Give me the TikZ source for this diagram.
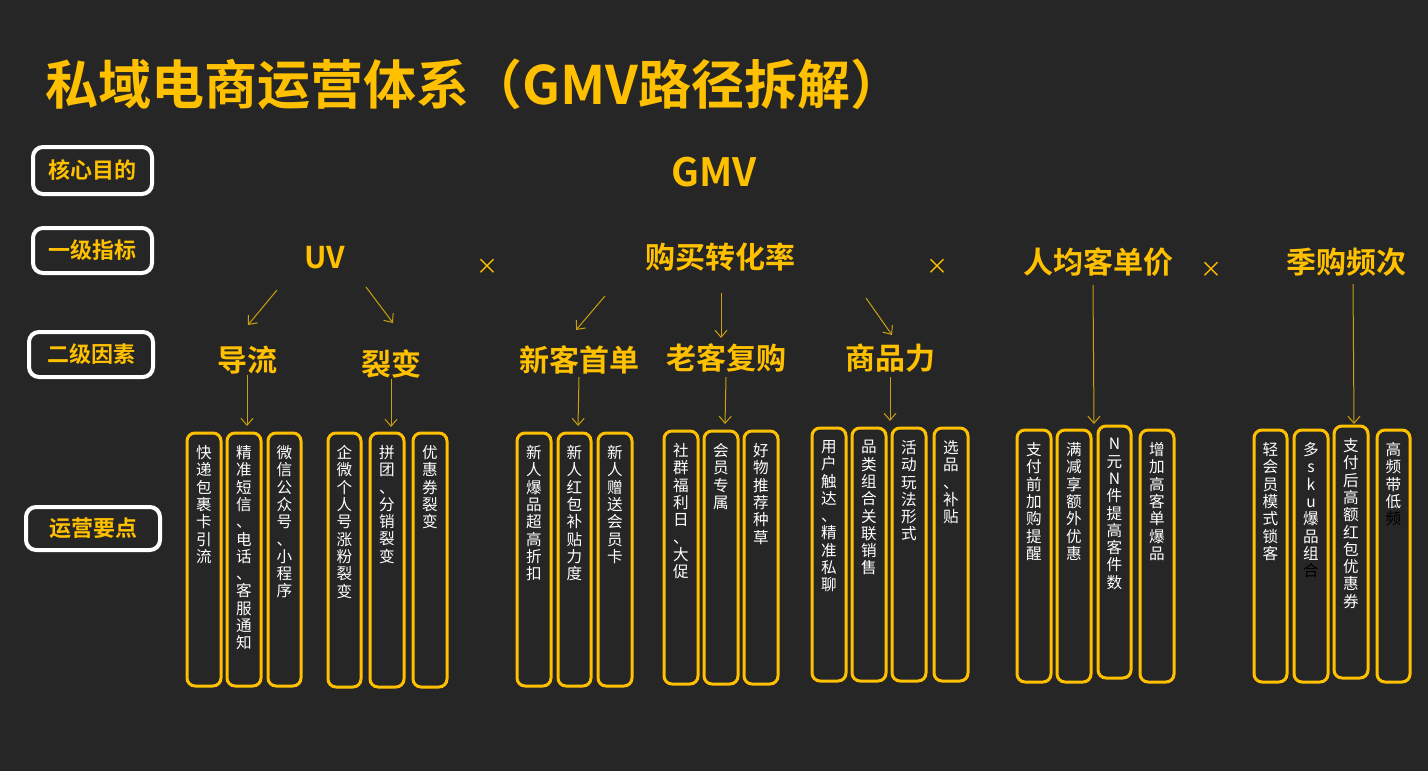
\documentclass[tikz,border=0pt]{standalone}
\usepackage{fontspec}
\usetikzlibrary{arrows.meta}
\setmainfont{Noto Sans CJK SC}
\newfontfamily\cjkb{Noto Sans CJK SC Bold}
\definecolor{bg}{HTML}{262626}
\definecolor{og}{HTML}{FFC000}
\definecolor{ln}{HTML}{C9A010}
\begin{document}
\begin{tikzpicture}[x=0.5pt,y=-0.5pt,
 lab/.style={draw=white,line width=2pt,rounded corners=5pt,text=og,font=\cjkb\fontsize{11}{12}\selectfont,inner sep=0pt},
 lvl/.style={text=og,font=\cjkb\fontsize{15}{18}\selectfont,inner sep=1pt},
 tms/.style={text=og,font=\fontsize{11}{12}\selectfont},
 arr/.style={draw=ln,line width=0.5pt,-{Straight Barb[length=3.5pt,width=6pt]}},
 bx/.style={draw=og,line width=1.5pt,rounded corners=4pt},
 bt/.style={text=white,font=\fontsize{7.8}{8.65}\selectfont,align=center,anchor=north,inner sep=0pt}]
\fill[bg] (0,0) rectangle (1428,771);
\useasboundingbox (0,0) rectangle (1428,771);
\node[anchor=west,text=og,font=\cjkb\fontsize{26.5}{30}\selectfont] (title) at (38,84) {私域电商运营体系（GMV路径拆解）};
\node[lab,minimum width=59.5pt,minimum height=23.5pt] (l1) at (92.5,170.5) {核心目的};
\node[lab,minimum width=59.5pt,minimum height=22.5pt] (l2) at (92.5,250.5) {一级指标};
\node[lab,minimum width=62pt,minimum height=22.5pt] (l3) at (91,354.5) {二级因素};
\node[lab,minimum width=67pt,minimum height=21.5pt] (l4) at (93,528.5) {运营要点};
\node[text=og,font=\cjkb\fontsize{19.5}{22}\selectfont] (gmv) at (714,172) {GMV};
\node[lvl] (uv) at (325,258) {UV};
\node[lvl] (cvr) at (720,257) {购买转化率};
\node[lvl] (aov) at (1098,262) {人均客单价};
\node[lvl] (freq) at (1346,262) {季购频次};
\node[tms] (x1) at (487,267) {×};
\node[tms] (x2) at (937,267) {×};
\node[tms] (x3) at (1211,270) {×};
\node[lvl] (dl) at (247,360) {导流};
\node[lvl] (lb) at (391,364) {裂变};
\node[lvl] (xk) at (579,360) {新客首单};
\node[lvl] (lk) at (726,358) {老客复购};
\node[lvl] (sp) at (890,358) {商品力};
% arrows
\coordinate (a1) at (277,290); \coordinate (b1) at (248,325);
\coordinate (a2) at (366,287); \coordinate (b2) at (393,323);
\coordinate (a3) at (247,375); \coordinate (b3) at (247,426);
\coordinate (a4) at (391,379); \coordinate (b4) at (391,427);
\coordinate (a5) at (605,296); \coordinate (b5) at (576,330);
\coordinate (a6) at (721,293); \coordinate (b6) at (721,338);
\coordinate (a7) at (866,298); \coordinate (b7) at (892,335);
\coordinate (a8) at (579,377); \coordinate (b8) at (578,426);
\coordinate (a9) at (726,377); \coordinate (b9) at (725,424);
\coordinate (a10) at (890,377); \coordinate (b10) at (890,421);
\coordinate (a11) at (1093,285); \coordinate (b11) at (1094,424);
\coordinate (a12) at (1353,284); \coordinate (b12) at (1354,424);
\foreach \i in {1,...,12} \draw[arr] (a\i) -- (b\i);
% boxes
\newcommand\vb[6]{\draw[bx] (#2,#4) rectangle (#3,#5);
 \node[bt] (#1) at ({(#2+#3)/2},{#4+12}) {#6};}
\vb{p1}{187}{221}{433}{686}{快\\递\\包\\裹\\卡\\引\\流}
\vb{p2}{227}{261}{433}{686}{精\\准\\短\\信\\、\\电\\话\\、\\客\\服\\通\\知}
\vb{p3}{268}{301}{433}{686}{微\\信\\公\\众\\号\\、\\小\\程\\序}
\vb{p4}{328}{361}{433}{687}{企\\微\\个\\人\\号\\涨\\粉\\裂\\变}
\vb{p5}{370}{404}{433}{687}{拼\\团\\、\\分\\销\\裂\\变}
\vb{p6}{413}{447}{433}{687}{优\\惠\\券\\裂\\变}
\vb{q1}{517}{551}{433}{686}{新\\人\\爆\\品\\超\\高\\折\\扣}
\vb{q2}{558}{591}{433}{686}{新\\人\\红\\包\\补\\贴\\力\\度}
\vb{q3}{598}{632}{433}{686}{新\\人\\赠\\送\\会\\员\\卡}
\vb{r1}{664}{698}{431}{684}{社\\群\\福\\利\\日\\、\\大\\促}
\vb{r2}{704}{738}{431}{684}{会\\员\\专\\属}
\vb{r3}{744}{778}{431}{684}{好\\物\\推\\荐\\种\\草}
\vb{s1}{812}{846}{428}{681}{用\\户\\触\\达\\、\\精\\准\\私\\聊}
\vb{s2}{852}{886}{428}{681}{品\\类\\组\\合\\关\\联\\销\\售}
\vb{s3}{892}{926}{428}{681}{活\\动\\玩\\法\\形\\式}
\vb{s4}{934}{968}{428}{681}{选\\品\\、\\补\\贴}
\vb{t1}{1017}{1051}{430}{682}{支\\付\\前\\加\\购\\提\\醒}
\vb{t2}{1057}{1091}{430}{682}{满\\减\\享\\额\\外\\优\\惠}
\vb{t3}{1098}{1131}{426}{678}{N\\元\\N\\件\\提\\高\\客\\件\\数}
\vb{t4}{1140}{1174}{430}{682}{增\\加\\高\\客\\单\\爆\\品}
\vb{u1}{1254}{1287}{430}{682}{轻\\会\\员\\模\\式\\锁\\客}
\vb{u2}{1294}{1328}{430}{682}{多\\s\\k\\u\\爆\\品\\组\\{\color{black}合}}
\vb{u3}{1334}{1368}{426}{678}{支\\付\\后\\高\\额\\红\\包\\优\\惠\\券}
\vb{u4}{1377}{1410}{430}{682}{高\\频\\带\\低\\{\color{black}频}}
\end{tikzpicture}
\end{document}
